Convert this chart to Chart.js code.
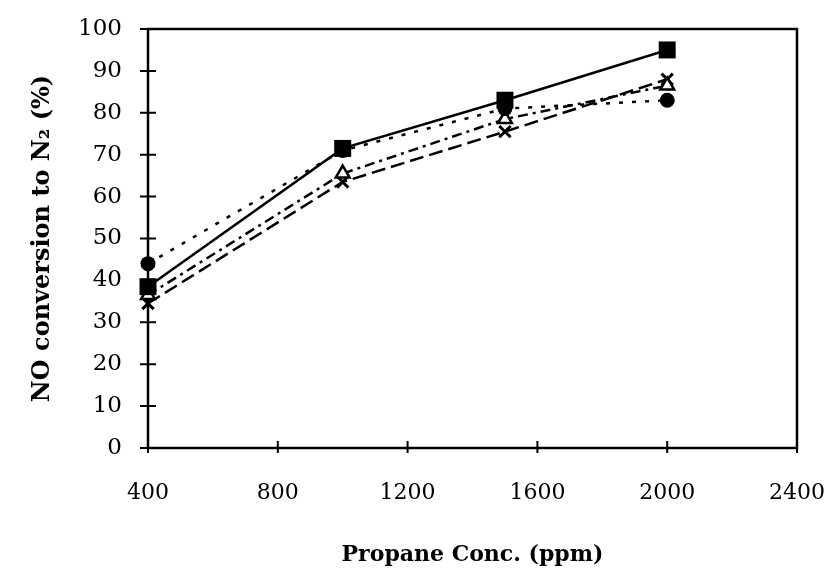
<!DOCTYPE html>
<html>
<head>
<meta charset="utf-8">
<script src="https://cdn.jsdelivr.net/npm/chart.js@4.4.0/dist/chart.umd.min.js"></script>
<style>
    html, body { margin: 0; padding: 0; background: #fff; }
    #wrap { width: 838px; height: 569px; }
</style>
</head>
<body>
<div id="wrap"><canvas id="conversionChart"></canvas></div>
<script>
// propane concentration in the feed (ppm)
const propane = [400, 1000, 1500, 2000];

// NO conversion to N2 (%), one array per run
const runSquare   = [38.5, 71.5, 83, 95];
const runCircle   = [44, 71, 81, 83];
const runTriangle = [36.5, 65.5, 78.5, 86.5];
const runCross    = [34.5, 63.5, 75.5, 88];

const serif = 'DejaVu Serif';

function points(values) {
    return propane.map((p, i) => ({ x: p, y: values[i] }));
}

// box round the plot plus ticks that cross the axes
const frame = {
    id: 'frame',
    beforeDatasetsDraw(chart) {
        const { ctx, chartArea: a, scales } = chart;
        ctx.save();
        ctx.strokeStyle = '#000';
        ctx.lineWidth = 2.5;
        ctx.strokeRect(a.left, a.top, a.right - a.left, a.bottom - a.top);
        ctx.lineWidth = 2;
        ctx.beginPath();
        for (const t of scales.y.ticks) {
            const y = scales.y.getPixelForValue(t.value);
            ctx.moveTo(a.left - 8, y);
            ctx.lineTo(a.left + 8, y);
        }
        for (const t of scales.x.ticks) {
            const x = scales.x.getPixelForValue(t.value);
            ctx.moveTo(x, a.bottom - 7);
            ctx.lineTo(x, a.bottom + 5);
        }
        ctx.stroke();
        ctx.restore();
    }
};

const data = {
    datasets: [
        {
            data: points(runSquare),
            borderColor: '#000',
            backgroundColor: '#000',
            borderWidth: 2.5,
            pointStyle: 'rect',
            pointRadius: 12,
            pointBorderWidth: 0,
        }, {
            data: points(runCircle),
            borderColor: '#000',
            backgroundColor: '#000',
            borderWidth: 2.5,
            borderDash: [4, 9],
            pointStyle: 'circle',
            pointRadius: 7.5,
            pointBorderWidth: 0,
        }, {
            data: points(runTriangle),
            borderColor: '#000',
            backgroundColor: '#fff',
            borderWidth: 2.5,
            borderDash: [10, 5, 3, 5],
            pointStyle: 'triangle',
            pointRadius: 8,
            pointBorderWidth: 2.5,
        }, {
            data: points(runCross),
            borderColor: '#000',
            backgroundColor: '#000',
            borderWidth: 2.5,
            borderDash: [14, 6],
            pointStyle: 'crossRot',
            pointRadius: 8,
            pointBorderWidth: 3,
        },
    ]
};

const options = {
    responsive: true,
    maintainAspectRatio: false,
    animation: false,
    clip: false,
    layout: { padding: { top: 29, right: 41, left: 0, bottom: 0 } },
    plugins: {
        legend: { display: false },
        tooltip: { enabled: false },
    },
    elements: { line: { tension: 0, fill: false } },
    scales: {
        x: {
            type: 'linear',
            min: 400,
            max: 2400,
            grid: { display: false, drawTicks: false },
            border: { display: false },
            ticks: {
                stepSize: 400,
                color: '#000',
                padding: 32,
                maxRotation: 0,
                font: { family: serif, size: 22 },
                callback: (v) => String(v),
            },
            title: {
                display: true,
                text: 'Propane Conc. (ppm)',
                color: '#000',
                font: { family: serif, size: 22, weight: 'bold' },
                padding: { top: 0, bottom: 1 },
            },
            afterFit(scale) {
                scale.height = 121;
                scale.paddingLeft = 0;
                scale.paddingRight = 0;
            },
        },
        y: {
            min: 0,
            max: 100,
            grid: { display: false, drawTicks: false },
            border: { display: false },
            ticks: {
                stepSize: 10,
                color: '#000',
                padding: 26,
                font: { family: serif, size: 23 },
            },
            title: {
                display: true,
                text: 'NO conversion to N\u2082 (%)',
                color: '#000',
                font: { family: serif, size: 24, weight: 'bold' },
                padding: { top: 28, bottom: 0 },
            },
            afterFit(scale) {
                scale.width = 148;
                scale.paddingTop = 0;
                scale.paddingBottom = 0;
            },
        },
    }
};

const ctx = document.getElementById('conversionChart').getContext('2d');
const conversionChart = new Chart(ctx, {
    type: 'line',
    data: data,
    options: options,
    plugins: [frame],
});
</script>
</body>
</html>
